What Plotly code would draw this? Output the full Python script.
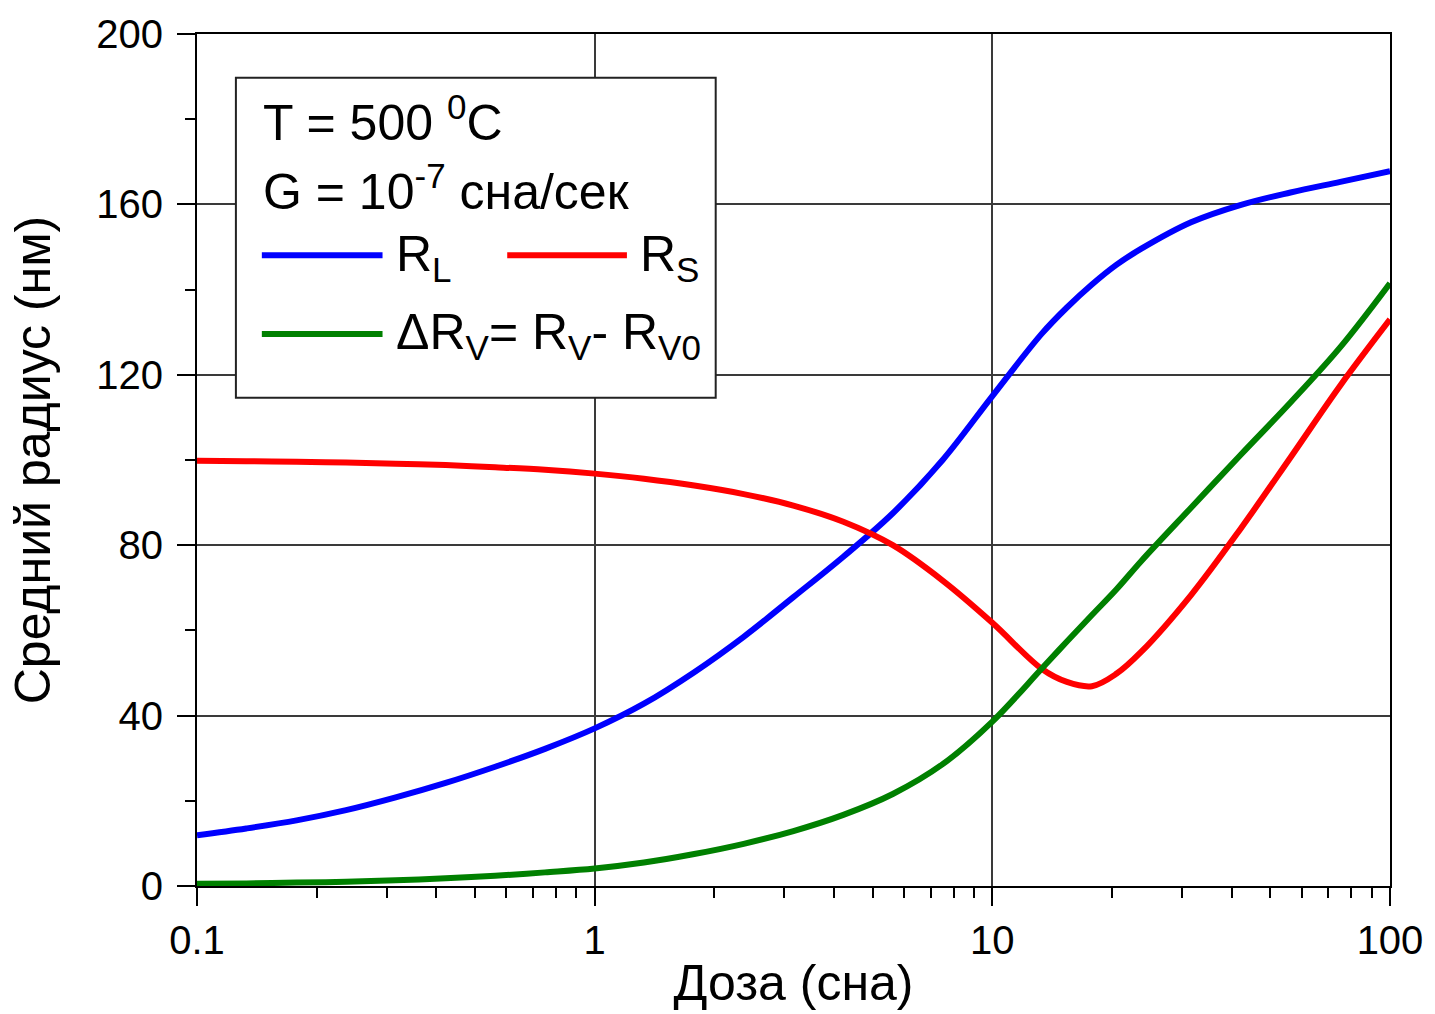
import plotly.graph_objects as go

# Dose (dpa), eight samples per decade plus two near the R_S minimum
dose = [0.1, 0.133, 0.178, 0.237, 0.316, 0.422, 0.562, 0.75,
        1, 1.33, 1.78, 2.37, 3.16, 4.22, 5.62, 7.5,
        10, 13.3, 15.4, 17.8, 20.5, 23.7, 31.6, 42.2, 56.2, 75, 100]

# Mean radius of loops, R_L (nm)
r_loop = [11.9, 13.5, 15.4, 17.8, 20.8, 24.2, 28.0, 32.2,
          37.0, 42.8, 50.2, 58.5, 67.8, 77.3, 87.5, 100.0,
          115.0, 129.6, 135.8, 141.2, 145.8, 149.6, 155.8, 159.9, 162.8,
          165.3, 167.8]

# Mean radius of precipitates, R_S (nm)
r_sec = [99.8, 99.7, 99.6, 99.4, 99.1, 98.8, 98.3, 97.7,
         96.8, 95.6, 94.0, 92.0, 89.3, 85.5, 80.0, 71.7,
         61.8, 51.0, 47.9, 46.9, 49.8, 55.0, 68.3, 84.0, 100.6, 117.5, 133.0]

# Void radius growth, dR_V = R_V - R_V0 (nm)
dr_void = [0.5, 0.6, 0.8, 1.0, 1.35, 1.8, 2.4, 3.2,
           4.1, 5.5, 7.5, 9.9, 12.9, 16.7, 21.6, 28.6,
           38.6, 51.0, 57.4, 63.6, 69.6, 76.3, 88.8, 101.3, 113.5, 126.5, 141.5]

x_ticks = [0.1, 1, 10, 100]
x_tick_text = ["0.1", "1", "10", "100"]
x_minor = [m * d for d in (0.1, 1, 10) for m in range(2, 10)]
y_ticks = [0, 40, 80, 120, 160, 200]

FONT = "Liberation Sans, Arial, sans-serif"
series = [
    (r_loop, "#0000ff", "R<sub>L</sub>"),
    (r_sec, "#ff0000", "R<sub>S</sub>"),
    (dr_void, "#008000", "ΔR<sub>V</sub>= R<sub>V</sub>- R<sub>V0</sub>"),
]

fig = go.Figure()
for ys, color, name in series:
    fig.add_trace(go.Scatter(
        x=dose, y=ys, mode="lines", name=name, showlegend=False,
        line=dict(color=color, width=6, shape="spline", smoothing=1.0),
    ))

axis_common = dict(
    showline=True, linecolor="black", linewidth=2, mirror=True,
    ticks="outside", ticklen=18, tickwidth=2, tickcolor="black",
    showgrid=True, gridcolor="#3a3a3a", gridwidth=1.5,
    zeroline=False,
    tickfont=dict(family=FONT, size=40, color="black"),
)

fig.update_xaxes(
    type="log", range=[-1, 2],
    tickvals=x_ticks, ticktext=x_tick_text,
    minor=dict(tickvals=x_minor, ticks="outside", ticklen=10,
               tickwidth=2, tickcolor="black", showgrid=False),
    title=dict(text="Доза (сна)", font=dict(family=FONT, size=50, color="black"),
               standoff=4),
    **axis_common,
)
fig.update_yaxes(
    range=[0, 200], tickvals=y_ticks,
    minor=dict(dtick=20, ticks="outside", ticklen=10,
               tickwidth=2, tickcolor="black", showgrid=False),
    ticklabelstandoff=6,
    title=dict(text="Средний радиус (нм)",
               font=dict(family=FONT, size=50, color="black"), standoff=30),
    **axis_common,
)

# Legend panel: frame, parameter lines and line keys
W, H, L, T = 1435, 1014, 197, 31
PW, PH = 1393 - L, 886 - T


def px(x):
    return (x - L) / PW


def py(y):
    return (886 - y) / PH


fig.add_shape(type="rect", xref="paper", yref="paper",
              x0=px(236), x1=px(717), y0=py(396), y1=py(75),
              line=dict(color="#222", width=2), fillcolor="white", layer="above")

text_font = dict(family=FONT, size=50, color="black")
fig.add_annotation(xref="paper", yref="paper", x=px(261), y=py(116),
                   xanchor="left", yanchor="middle", showarrow=False,
                   text="T = 500 <sup>0</sup>C", font=text_font)
fig.add_annotation(xref="paper", yref="paper", x=px(261), y=py(186),
                   xanchor="left", yanchor="middle", showarrow=False,
                   text="G = 10<sup>-7</sup> сна/сек", font=text_font)

keys = [
    (262, 383, 253, 394, series[0]),
    (508, 628, 253, 639, series[1]),
    (262, 383, 332, 394, series[2]),
]
for x0, x1, yk, xt, (_, color, name) in keys:
    fig.add_shape(type="line", xref="paper", yref="paper",
                  x0=px(x0), x1=px(x1), y0=py(yk), y1=py(yk),
                  line=dict(color=color, width=6), layer="above")
    fig.add_annotation(xref="paper", yref="paper", x=px(xt), y=py(yk + 2),
                       xanchor="left", yanchor="middle", showarrow=False,
                       text=name, font=text_font)

fig.update_layout(
    width=W, height=H,
    margin=dict(l=L, r=W - 1393, t=T, b=H - 886),
    plot_bgcolor="white", paper_bgcolor="white",
    font=dict(family=FONT, color="black"),
)

fig.write_html("out.html")
